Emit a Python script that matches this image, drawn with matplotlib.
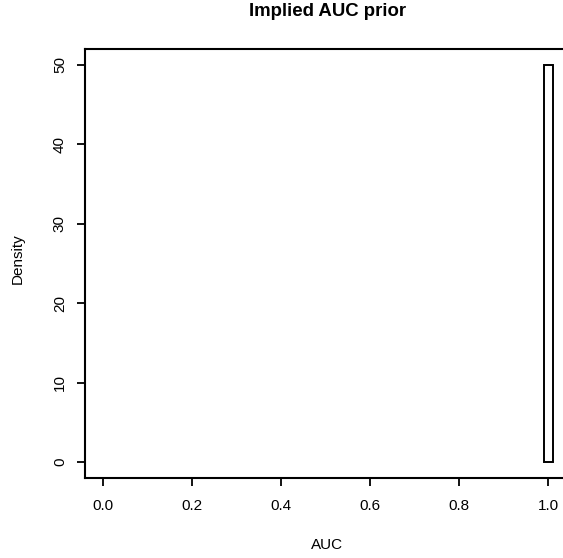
import numpy as np
import matplotlib
matplotlib.use("Agg")
import matplotlib.pyplot as plt

plt.rcParams['font.family'] = ['Liberation Sans', 'DejaVu Sans']

# histogram of implied AUC prior: all mass in one bin around 1.0
bin_edges = [0.99, 1.01]
density = [50]
x_ticks = [0.0, 0.2, 0.4, 0.6, 0.8, 1.0]
y_ticks = [0, 10, 20, 30, 40, 50]

W, H = 563, 558
fig = plt.figure(figsize=(W / 100, H / 100), dpi=100)
# plot region in pixels (right edge runs past the image, like the reference)
left, right, top, bottom = 85, 566, 49, 478
ax = fig.add_axes([left / W, 1 - bottom / H, (right - left) / W, (bottom - top) / H])

ax.bar(bin_edges[0], density[0], width=bin_edges[1] - bin_edges[0], align='edge',
       facecolor='white', edgecolor='black', linewidth=1.4)

ax.set_xlim(-0.04, 1.04)
ax.set_ylim(-2, 52)
ax.set_xticks(x_ticks)
ax.set_xticklabels([f"{v:.1f}" for v in x_ticks])
ax.set_yticks(y_ticks)
ax.set_yticklabels([str(v) for v in y_ticks], rotation=90, va='center')
ax.tick_params(axis='both', direction='out', length=6, width=1.3, labelsize=11)
ax.tick_params(axis='x', pad=9)
ax.tick_params(axis='y', pad=7)
for s in ax.spines.values():
    s.set_linewidth(1.5)

fig.text(328 / W, 1 - 12 / H, "Implied AUC prior", ha='center', va='center',
         fontsize=13.4, fontweight='bold')
fig.text(327 / W, 1 - 545 / H, "AUC", ha='center', va='center', fontsize=11)
fig.text(18 / W, 1 - 259 / H, "Density", ha='center', va='center', fontsize=11,
         rotation=90)

fig.savefig("out.png", dpi=100)
